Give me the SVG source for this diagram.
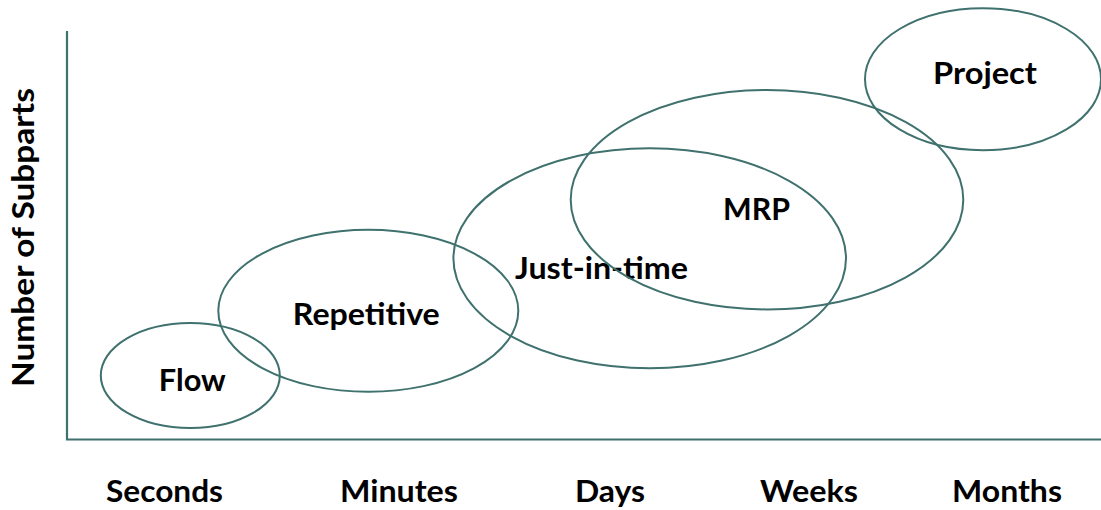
<svg xmlns="http://www.w3.org/2000/svg" width="1101" height="510" viewBox="0 0 1101 510">
  <style>
    .zone { fill: none; stroke: #3f716e; stroke-width: 2; }
    .axis { fill: none; stroke: #3f716e; stroke-width: 2.2; }
    .lbl { font-family: Lato, "Open Sans", "Liberation Sans", sans-serif; font-weight: bold; font-size: 30px; fill: #000; text-anchor: middle; }
  </style>
  <rect width="1101" height="510" fill="#fff"/>

  <!-- axes -->
  <g id="axes">
    <polyline class="axis" points="67,31 67,439.5 1101,439.5"/>
  </g>

  <!-- process zones -->
  <g id="flow">
    <ellipse class="zone" cx="190.3" cy="375.5" rx="89.5" ry="52.5"/>
    <text class="lbl" x="192.3" y="390.5" textLength="67" lengthAdjust="spacingAndGlyphs">Flow</text>
  </g>
  <g id="repetitive">
    <ellipse class="zone" cx="368.3" cy="310.8" rx="150" ry="81"/>
    <text class="lbl" x="366.3" y="325" textLength="147" lengthAdjust="spacingAndGlyphs">Repetitive</text>
  </g>
  <g id="just-in-time">
    <ellipse class="zone" cx="649.7" cy="258.3" rx="196.3" ry="110"/>
    <text class="lbl" x="601.5" y="279" textLength="173" lengthAdjust="spacingAndGlyphs">Just-in-time</text>
  </g>
  <g id="mrp">
    <ellipse class="zone" cx="767" cy="199.7" rx="196.3" ry="109.7"/>
    <text class="lbl" x="756.5" y="220" textLength="67" lengthAdjust="spacingAndGlyphs">MRP</text>
  </g>
  <g id="project">
    <ellipse class="zone" cx="983" cy="79.2" rx="118" ry="71"/>
    <text class="lbl" x="985" y="84" textLength="104" lengthAdjust="spacingAndGlyphs">Project</text>
  </g>

  <!-- axis labels -->
  <g id="x-labels">
    <text class="lbl" x="164.5" y="502" textLength="117" lengthAdjust="spacingAndGlyphs">Seconds</text>
    <text class="lbl" x="399" y="502" textLength="118" lengthAdjust="spacingAndGlyphs">Minutes</text>
    <text class="lbl" x="610" y="502" textLength="70" lengthAdjust="spacingAndGlyphs">Days</text>
    <text class="lbl" x="809" y="502" textLength="98" lengthAdjust="spacingAndGlyphs">Weeks</text>
    <text class="lbl" x="1007" y="502" textLength="110" lengthAdjust="spacingAndGlyphs">Months</text>
  </g>
  <g id="y-label">
    <text class="lbl" transform="translate(34,237.5) rotate(-90)" x="0" y="0" textLength="299" lengthAdjust="spacingAndGlyphs">Number of Subparts</text>
  </g>
</svg>
